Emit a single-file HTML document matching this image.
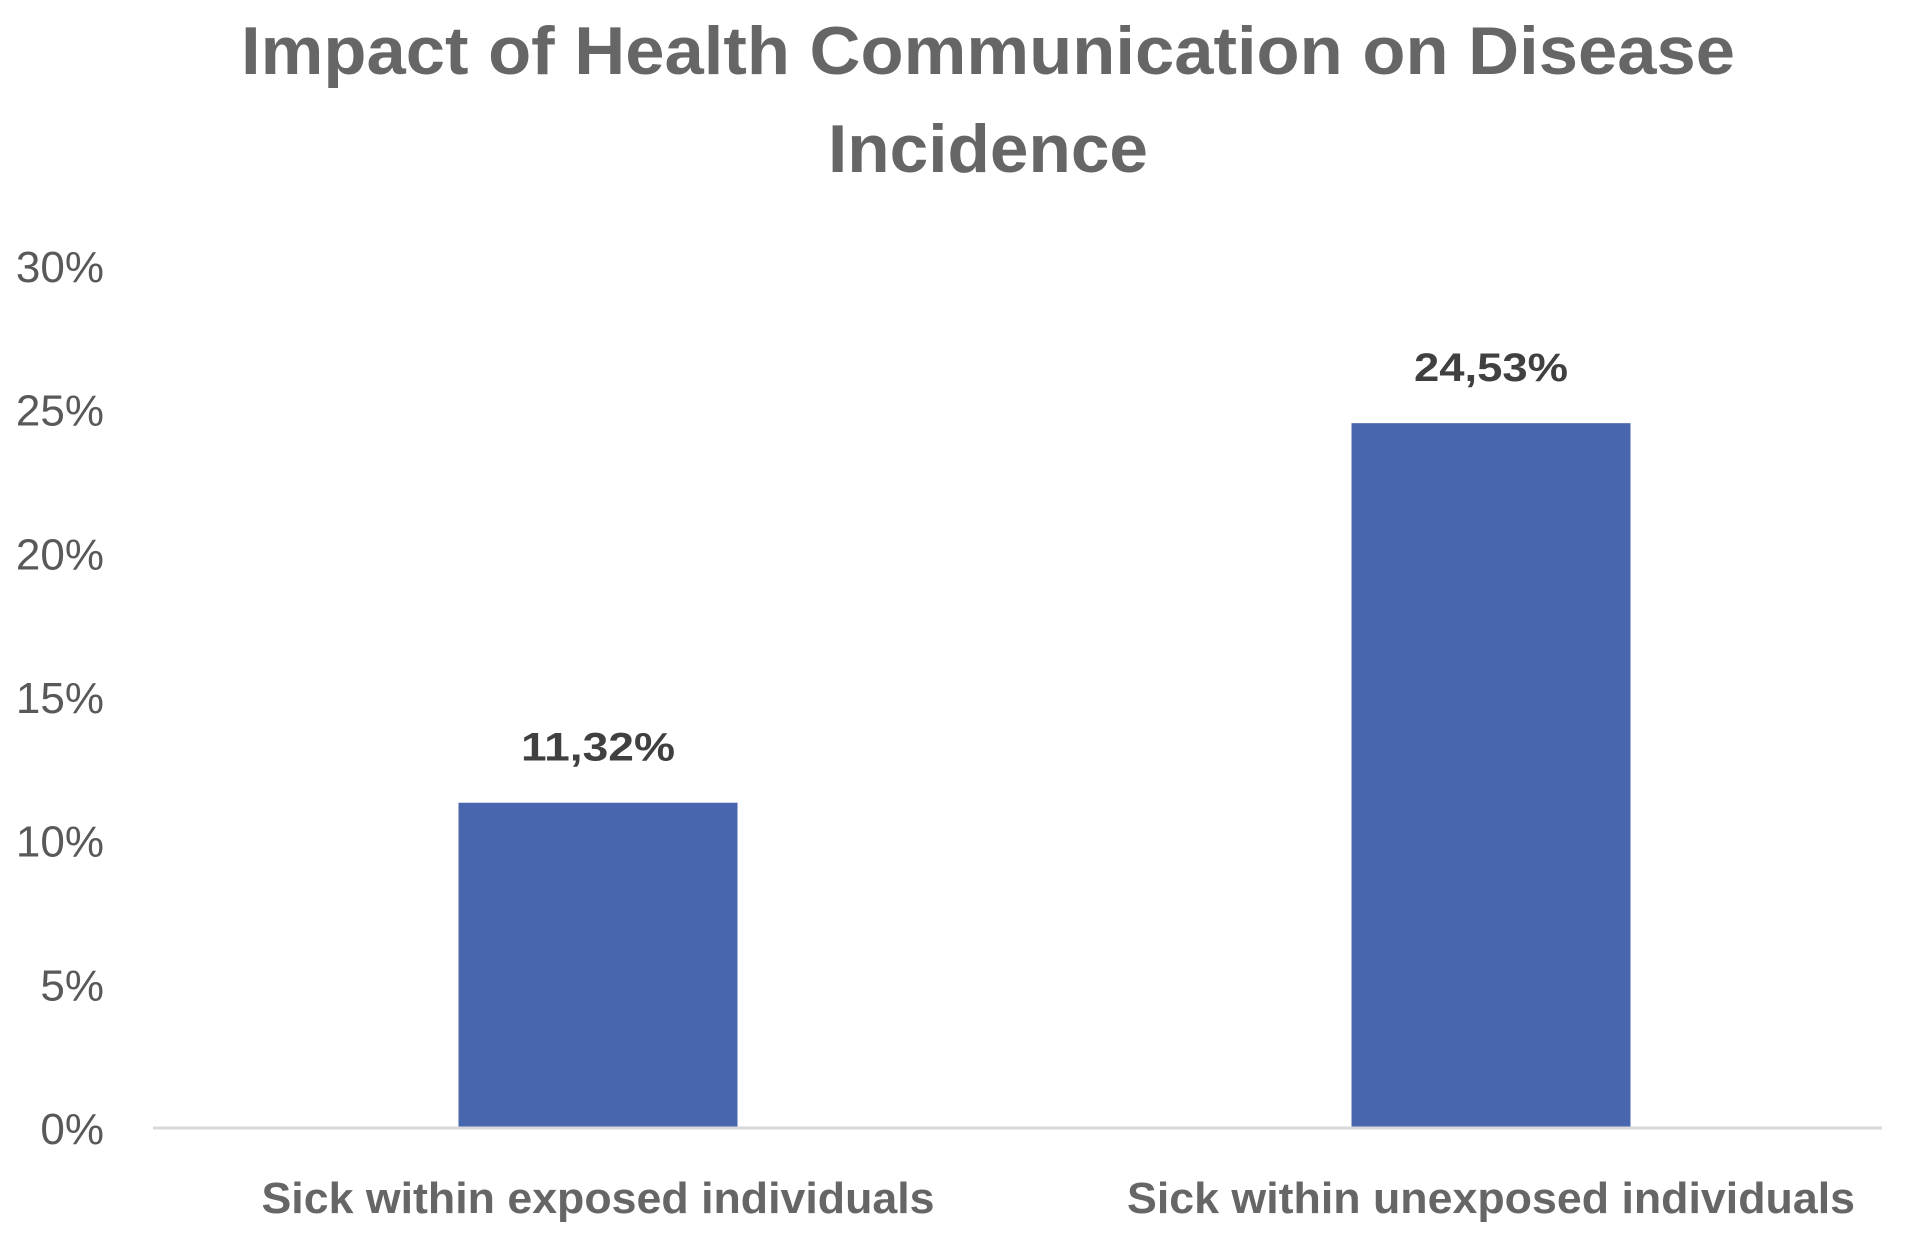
<!DOCTYPE html>
<html><head><meta charset="utf-8"><style>
html,body{margin:0;padding:0;background:#fff;}
svg{display:block;}
text{font-family:"Liberation Sans",sans-serif;}
</style></head><body>
<svg id="chart" width="1919" height="1239" viewBox="0 0 1919 1239">
<text x="988" y="74" text-anchor="middle" font-size="68" font-weight="bold" fill="#666666" textLength="1494" lengthAdjust="spacingAndGlyphs">Impact of Health Communication on Disease</text>
<text x="988" y="172" text-anchor="middle" font-size="68" font-weight="bold" fill="#666666" textLength="320" lengthAdjust="spacingAndGlyphs">Incidence</text>
<g id="yaxis"></g>
<g id="bars"></g>
<line x1="153" x2="1882" y1="1128" y2="1128" stroke="#d9d9d9" stroke-width="3"/>
</svg>
<script>
const categories = ["Sick within exposed individuals", "Sick within unexposed individuals"];
const values = [11.32, 24.53];
const valueLabels = ["11,32%", "24,53%"];
const ticks = [0, 5, 10, 15, 20, 25, 30];
const tickLabels = ["0%", "5%", "10%", "15%", "20%", "25%", "30%"];

const NS = "http://www.w3.org/2000/svg";
const y0 = 1128, yTop = 266, vMax = 30;
function yScale(v){ return y0 - (v / vMax) * (y0 - yTop); }
const firstCenter = 598, band = 893;
function xCenter(i){ return firstCenter + band * i; }
const barW = 279;

const yAxis = document.getElementById('yaxis');
ticks.forEach((t, i) => {
  const tx = document.createElementNS(NS, 'text');
  tx.setAttribute('x', 104);
  tx.setAttribute('y', yScale(t) + 16);
  tx.setAttribute('text-anchor', 'end');
  tx.setAttribute('font-size', '44');
  tx.setAttribute('fill', '#595959');
  tx.textContent = tickLabels[i];
  
  
  yAxis.appendChild(tx);
});

const bars = document.getElementById('bars');
categories.forEach((c, i) => {
  const cx = xCenter(i);
  const r = document.createElementNS(NS, 'rect');
  r.setAttribute('x', cx - barW / 2);
  r.setAttribute('y', yScale(values[i]));
  r.setAttribute('width', barW);
  r.setAttribute('height', y0 - yScale(values[i]));
  r.setAttribute('fill', '#4866AD');
  
  
  bars.appendChild(r);

  const vl = document.createElementNS(NS, 'text');
  vl.setAttribute('x', cx);
  vl.setAttribute('y', yScale(values[i]) - 42);
  vl.setAttribute('text-anchor', 'middle');
  vl.setAttribute('font-size', '40');
  vl.setAttribute('font-weight', 'bold');
  vl.setAttribute('fill', '#404040');
  vl.setAttribute('textLength', '154');
  vl.setAttribute('lengthAdjust', 'spacingAndGlyphs');
  vl.textContent = valueLabels[i];
  
  
  bars.appendChild(vl);

  const cl = document.createElementNS(NS, 'text');
  cl.setAttribute('x', cx);
  cl.setAttribute('y', 1213);
  cl.setAttribute('text-anchor', 'middle');
  cl.setAttribute('font-size', '44');
  cl.setAttribute('font-weight', 'bold');
  cl.setAttribute('fill', '#666666');
  cl.setAttribute('textLength', i === 0 ? '673' : '728');
  cl.setAttribute('lengthAdjust', 'spacingAndGlyphs');
  cl.textContent = c;
  
  
  bars.appendChild(cl);
});
</script>
</body></html>
